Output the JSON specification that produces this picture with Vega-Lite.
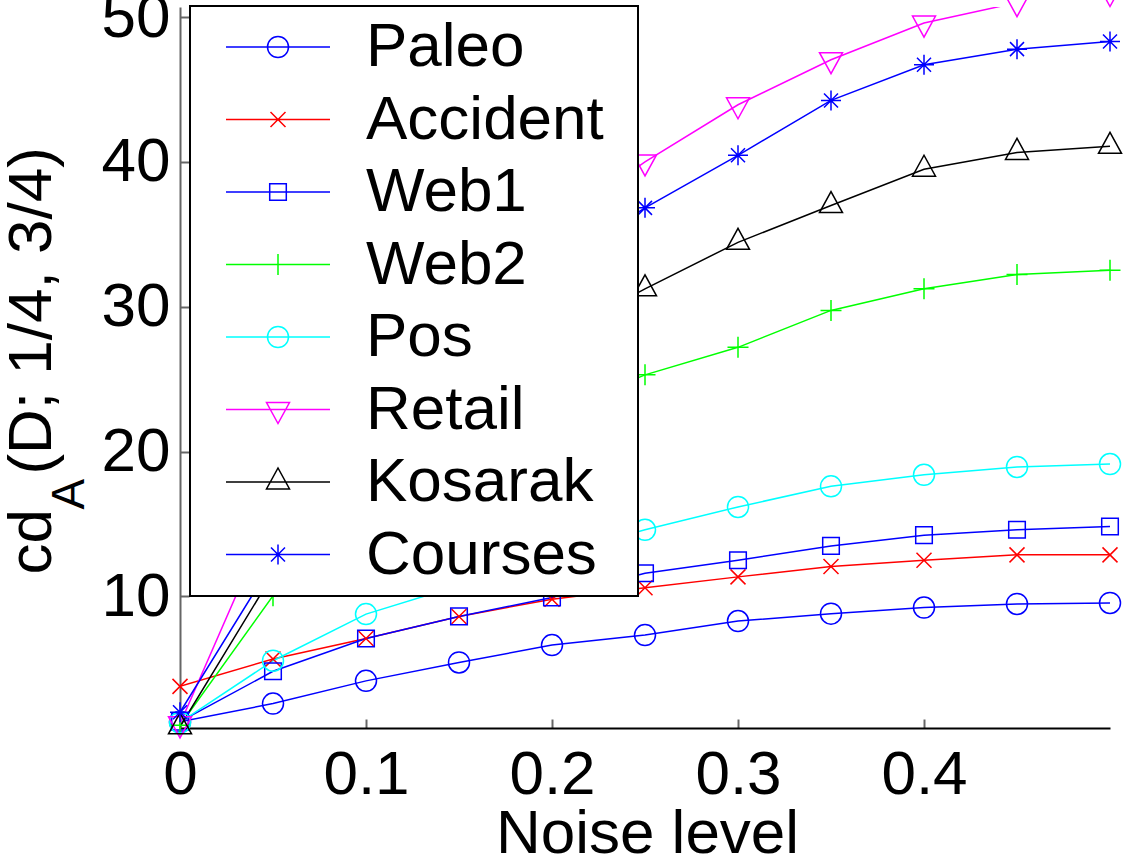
{
  "$schema": "https://vega.github.io/schema/vega-lite/v6.json",
  "width": 930,
  "height": 721,
  "autosize": {"type": "none"},
  "padding": {"left": 180, "top": 7, "right": 20, "bottom": 139},
  "background": "white",
  "config": {
    "view": {"stroke": null},
    "font": "Liberation Sans",
    "legend": {"strokeWidth": 2}
  },
  "data": {
    "values": [
      {"series": "Paleo", "noise": 0, "cd": 1.35},
      {"series": "Paleo", "noise": 0.05, "cd": 2.6},
      {"series": "Paleo", "noise": 0.1, "cd": 4.17},
      {"series": "Paleo", "noise": 0.15, "cd": 5.44},
      {"series": "Paleo", "noise": 0.2, "cd": 6.64},
      {"series": "Paleo", "noise": 0.25, "cd": 7.33},
      {"series": "Paleo", "noise": 0.3, "cd": 8.3},
      {"series": "Paleo", "noise": 0.35, "cd": 8.81},
      {"series": "Paleo", "noise": 0.4, "cd": 9.23},
      {"series": "Paleo", "noise": 0.45, "cd": 9.48},
      {"series": "Paleo", "noise": 0.5, "cd": 9.55},
      {"series": "Accident", "noise": 0, "cd": 3.79},
      {"series": "Accident", "noise": 0.05, "cd": 5.68},
      {"series": "Accident", "noise": 0.1, "cd": 7.1},
      {"series": "Accident", "noise": 0.15, "cd": 8.62},
      {"series": "Accident", "noise": 0.2, "cd": 9.81},
      {"series": "Accident", "noise": 0.25, "cd": 10.6},
      {"series": "Accident", "noise": 0.3, "cd": 11.35},
      {"series": "Accident", "noise": 0.35, "cd": 12.07},
      {"series": "Accident", "noise": 0.4, "cd": 12.5},
      {"series": "Accident", "noise": 0.45, "cd": 12.87},
      {"series": "Accident", "noise": 0.5, "cd": 12.87},
      {"series": "Web1", "noise": 0, "cd": 1.35},
      {"series": "Web1", "noise": 0.05, "cd": 4.83},
      {"series": "Web1", "noise": 0.1, "cd": 7.1},
      {"series": "Web1", "noise": 0.15, "cd": 8.62},
      {"series": "Web1", "noise": 0.2, "cd": 9.93},
      {"series": "Web1", "noise": 0.25, "cd": 11.6},
      {"series": "Web1", "noise": 0.3, "cd": 12.5},
      {"series": "Web1", "noise": 0.35, "cd": 13.49},
      {"series": "Web1", "noise": 0.4, "cd": 14.23},
      {"series": "Web1", "noise": 0.45, "cd": 14.6},
      {"series": "Web1", "noise": 0.5, "cd": 14.83},
      {"series": "Web2", "noise": 0, "cd": 1.1},
      {"series": "Web2", "noise": 0.05, "cd": 10.04},
      {"series": "Web2", "noise": 0.1, "cd": 15.5},
      {"series": "Web2", "noise": 0.15, "cd": 19.5},
      {"series": "Web2", "noise": 0.2, "cd": 22.6},
      {"series": "Web2", "noise": 0.25, "cd": 25.3},
      {"series": "Web2", "noise": 0.3, "cd": 27.2},
      {"series": "Web2", "noise": 0.35, "cd": 29.75},
      {"series": "Web2", "noise": 0.4, "cd": 31.24},
      {"series": "Web2", "noise": 0.45, "cd": 32.23},
      {"series": "Web2", "noise": 0.5, "cd": 32.53},
      {"series": "Pos", "noise": 0, "cd": 1.3},
      {"series": "Pos", "noise": 0.05, "cd": 5.56},
      {"series": "Pos", "noise": 0.1, "cd": 8.78},
      {"series": "Pos", "noise": 0.15, "cd": 10.75},
      {"series": "Pos", "noise": 0.2, "cd": 12.8},
      {"series": "Pos", "noise": 0.25, "cd": 14.6},
      {"series": "Pos", "noise": 0.3, "cd": 16.18},
      {"series": "Pos", "noise": 0.35, "cd": 17.6},
      {"series": "Pos", "noise": 0.4, "cd": 18.4},
      {"series": "Pos", "noise": 0.45, "cd": 18.94},
      {"series": "Pos", "noise": 0.5, "cd": 19.14},
      {"series": "Retail", "noise": 0, "cd": 1.2},
      {"series": "Retail", "noise": 0.05, "cd": 15.9},
      {"series": "Retail", "noise": 0.1, "cd": 24.5},
      {"series": "Retail", "noise": 0.15, "cd": 30.5},
      {"series": "Retail", "noise": 0.2, "cd": 35.5},
      {"series": "Retail", "noise": 0.25, "cd": 40.0},
      {"series": "Retail", "noise": 0.3, "cd": 43.95},
      {"series": "Retail", "noise": 0.35, "cd": 47.06},
      {"series": "Retail", "noise": 0.4, "cd": 49.59},
      {"series": "Retail", "noise": 0.45, "cd": 51.0},
      {"series": "Retail", "noise": 0.5, "cd": 51.7},
      {"series": "Kosarak", "noise": 0, "cd": 1.0},
      {"series": "Kosarak", "noise": 0.05, "cd": 11.55},
      {"series": "Kosarak", "noise": 0.1, "cd": 18.5},
      {"series": "Kosarak", "noise": 0.15, "cd": 23.5},
      {"series": "Kosarak", "noise": 0.2, "cd": 27.8},
      {"series": "Kosarak", "noise": 0.25, "cd": 31.24},
      {"series": "Kosarak", "noise": 0.3, "cd": 34.45},
      {"series": "Kosarak", "noise": 0.35, "cd": 36.99},
      {"series": "Kosarak", "noise": 0.4, "cd": 39.5},
      {"series": "Kosarak", "noise": 0.45, "cd": 40.66},
      {"series": "Kosarak", "noise": 0.5, "cd": 41.08},
      {"series": "Courses", "noise": 0, "cd": 2.0},
      {"series": "Courses", "noise": 0.05, "cd": 12.4},
      {"series": "Courses", "noise": 0.1, "cd": 21.5},
      {"series": "Courses", "noise": 0.15, "cd": 27.5},
      {"series": "Courses", "noise": 0.2, "cd": 32.7},
      {"series": "Courses", "noise": 0.25, "cd": 36.83},
      {"series": "Courses", "noise": 0.3, "cd": 40.46},
      {"series": "Courses", "noise": 0.35, "cd": 44.25},
      {"series": "Courses", "noise": 0.4, "cd": 46.71},
      {"series": "Courses", "noise": 0.45, "cd": 47.79},
      {"series": "Courses", "noise": 0.5, "cd": 48.32}
    ]
  },
  "encoding": {
    "x": {
      "field": "noise",
      "type": "quantitative",
      "scale": {"domain": [0, 0.5], "nice": false, "zero": false},
      "axis": {
        "values": [0, 0.1, 0.2, 0.3, 0.4],
        "format": "~g",
        "grid": false,
        "domainColor": "black",
        "domainWidth": 2,
        "tickColor": "#666666",
        "tickWidth": 2,
        "tickSize": -9,
        "labelPadding": 25,
        "labelFont": "Liberation Sans",
        "labelFontSize": 62,
        "labelColor": "black",
        "labelFlush": false,
        "title": "Noise level",
        "titleFont": "Liberation Sans",
        "titleFontSize": 62,
        "titleFontWeight": "normal",
        "titleColor": "black",
        "titleBaseline": "alphabetic",
        "titleAlign": "center",
        "titleX": 467,
        "titleY": 124
      }
    },
    "color": {
      "field": "series",
      "type": "nominal",
      "sort": null,
      "scale": {
        "domain": ["Paleo", "Accident", "Web1", "Web2", "Pos", "Retail", "Kosarak", "Courses"],
        "range": ["#0000ff", "#ff0000", "#0000ff", "#00ff00", "#00ffff", "#ff00ff", "#000000", "#0000ff"]
      },
      "legend": {
        "orient": "none",
        "legendX": 10,
        "legendY": -1,
        "title": "\u00a0",
        "titleOrient": "right",
        "titleFontSize": 1,
        "titlePadding": 24,
        "padding": 10,
        "strokeColor": "black",
        "fillColor": "white",
        "labelFont": "Liberation Sans",
        "labelFontSize": 62,
        "labelColor": "black",
        "labelLimit": 0,
        "symbolSize": 400,
        "symbolStrokeWidth": 1.5,
        "symbolOffset": 47,
        "labelOffset": 57,
        "rowPadding": 10.5,
        "encoding": {
          "symbols": {
            "shape": {"value": {"expr": "'M-5.2,0L5.2,0' + scale('shape', datum.value)"}},
            "fill": {"value": "transparent"}
          }
        }
      }
    }
  },
  "layer": [
    {
      "mark": {"type": "line", "clip": true, "strokeWidth": 1.5},
      "encoding": {
        "y": {
          "field": "cd",
          "type": "quantitative",
          "scale": {"domain": [0.915, 50.7], "nice": false, "zero": false},
          "axis": {
            "values": [10, 20, 30, 40, 50],
            "grid": false,
            "domainColor": "#666666",
            "domainWidth": 2,
            "tickColor": "#666666",
            "tickWidth": 2,
            "tickSize": -9,
            "labelPadding": 19,
            "labelFont": "Liberation Sans",
            "labelFontSize": 62,
            "labelColor": "black",
            "labelFlush": false,
            "title": "cd\u00a0\u00a0(D; 1/4, 3/4)",
            "titleFont": "Liberation Sans",
            "titleFontSize": 62,
            "titleFontWeight": "normal",
            "titleColor": "black",
            "titleAngle": -90,
            "titleAlign": "left",
            "titleBaseline": "alphabetic",
            "titleX": -130,
            "titleY": 567
          }
        }
      }
    },
    {
      "mark": {"type": "point", "filled": false, "size": 400, "strokeWidth": 1.5, "opacity": 1},
      "encoding": {
        "y": {
          "field": "cd",
          "type": "quantitative",
          "scale": {"domain": [0.915, 50.7], "nice": false, "zero": false},
          "axis": {
            "orient": "left",
            "values": [10],
            "labels": false,
            "ticks": false,
            "domain": false,
            "grid": false,
            "title": "A",
            "titleFont": "Liberation Sans",
            "titleFontSize": 46,
            "titleFontWeight": "normal",
            "titleColor": "black",
            "titleAngle": -90,
            "titleAlign": "left",
            "titleBaseline": "alphabetic",
            "titleX": -97,
            "titleY": 502
          }
        },
        "shape": {
          "field": "series",
          "type": "nominal",
          "sort": null,
          "legend": null,
          "scale": {
            "domain": ["Courses", "Kosarak", "Retail", "Pos", "Web2", "Web1", "Accident", "Paleo"],
            "range": [
              "M-1,0L1,0M0,-1L0,1M-0.7,-0.7L0.7,0.7M-0.7,0.7L0.7,-0.7",
              "M-1.15,0.7L1.15,0.7L0,-1.4Z",
              "M-1.15,-0.7L1.15,-0.7L0,1.4Z",
              "M1.05,0A1.05,1.05,0,1,1,-1.05,0A1.05,1.05,0,1,1,1.05,0Z",
              "M-1.05,0L1.05,0M0,-1.05L0,1.05",
              "M-0.83,-0.83L0.83,-0.83L0.83,0.83L-0.83,0.83Z",
              "M-0.75,-0.75L0.75,0.75M-0.75,0.75L0.75,-0.75",
              "M1.05,0A1.05,1.05,0,1,1,-1.05,0A1.05,1.05,0,1,1,1.05,0Z"
            ]
          }
        }
      }
    }
  ],
  "resolve": {"axis": {"y": "independent"}}
}
